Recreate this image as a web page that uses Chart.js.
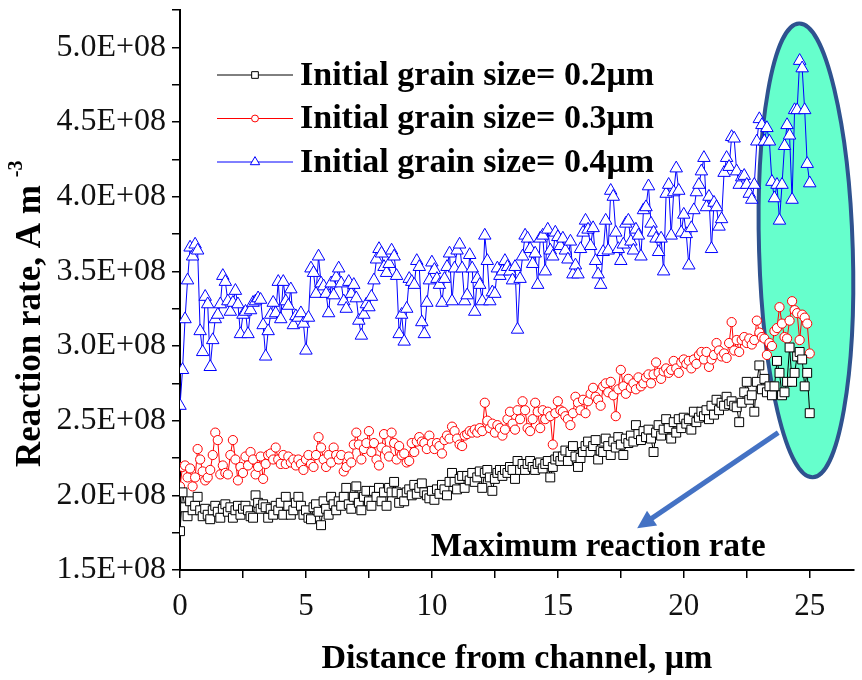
<!DOCTYPE html>
<html>
<head>
<meta charset="utf-8">
<script src="https://cdn.jsdelivr.net/npm/chart.js@4.4.1/dist/chart.umd.min.js"></script>
<style>
  html, body { margin: 0; padding: 0; background: #fff; }
  #myChart { display: block; }
</style>
</head>
<body>
<canvas id="myChart" width="862" height="680"></canvas>
<script>
// distance from channel, um
const distance = [
  0, 0.1, 0.2, 0.3, 0.4, 0.5, 0.6, 0.7, 0.8, 0.9,
  1, 1.1, 1.2, 1.3, 1.4, 1.5, 1.6, 1.7, 1.8, 1.9,
  2, 2.1, 2.2, 2.3, 2.4, 2.5, 2.6, 2.7, 2.8, 2.9,
  3, 3.1, 3.2, 3.3, 3.4, 3.5, 3.6, 3.7, 3.8, 3.9,
  4, 4.1, 4.2, 4.3, 4.4, 4.5, 4.6, 4.7, 4.8, 4.9,
  5, 5.1, 5.2, 5.3, 5.4, 5.5, 5.6, 5.7, 5.8, 5.9,
  6, 6.1, 6.2, 6.3, 6.4, 6.5, 6.6, 6.7, 6.8, 6.9,
  7, 7.1, 7.2, 7.3, 7.4, 7.5, 7.6, 7.7, 7.8, 7.9,
  8, 8.1, 8.2, 8.3, 8.4, 8.5, 8.6, 8.7, 8.8, 8.9,
  9, 9.1, 9.2, 9.3, 9.4, 9.5, 9.6, 9.7, 9.8, 9.9,
  10, 10.1, 10.2, 10.3, 10.4, 10.5, 10.6, 10.7, 10.8, 10.9,
  11, 11.1, 11.2, 11.3, 11.4, 11.5, 11.6, 11.7, 11.8, 11.9,
  12, 12.1, 12.2, 12.3, 12.4, 12.5, 12.6, 12.7, 12.8, 12.9,
  13, 13.1, 13.2, 13.3, 13.4, 13.5, 13.6, 13.7, 13.8, 13.9,
  14, 14.1, 14.2, 14.3, 14.4, 14.5, 14.6, 14.7, 14.8, 14.9,
  15, 15.1, 15.2, 15.3, 15.4, 15.5, 15.6, 15.7, 15.8, 15.9,
  16, 16.1, 16.2, 16.3, 16.4, 16.5, 16.6, 16.7, 16.8, 16.9,
  17, 17.1, 17.2, 17.3, 17.4, 17.5, 17.6, 17.7, 17.8, 17.9,
  18, 18.1, 18.2, 18.3, 18.4, 18.5, 18.6, 18.7, 18.8, 18.9,
  19, 19.1, 19.2, 19.3, 19.4, 19.5, 19.6, 19.7, 19.8, 19.9,
  20, 20.1, 20.2, 20.3, 20.4, 20.5, 20.6, 20.7, 20.8, 20.9,
  21, 21.1, 21.2, 21.3, 21.4, 21.5, 21.6, 21.7, 21.8, 21.9,
  22, 22.1, 22.2, 22.3, 22.4, 22.5, 22.6, 22.7, 22.8, 22.9,
  23, 23.1, 23.2, 23.3, 23.4, 23.5, 23.6, 23.7, 23.8, 23.9,
  24, 24.1, 24.2, 24.3, 24.4, 24.5, 24.6, 24.7, 24.8, 24.9,
  25
];

// reaction rate, in units of 1E+08 A m^-3
const rate02 = [
  1.76, 2.02, 1.92, 1.86, 1.96, 1.90, 1.93, 1.99, 1.90, 1.86,
  1.91, 1.87, 1.84, 1.90, 1.93, 1.89, 1.85, 1.91, 1.94, 1.89,
  1.92, 1.85, 1.90, 1.93, 1.87, 1.91, 1.93, 1.90, 1.86, 1.85,
  2.00, 1.95, 1.91, 1.94, 1.92, 1.85, 1.91, 1.87, 1.93, 1.90,
  1.95, 1.87, 1.99, 1.93, 1.87, 1.90, 1.95, 1.99, 1.93, 1.87,
  1.90, 1.85, 1.84, 1.92, 1.94, 1.89, 1.80, 1.96, 1.91, 1.87,
  1.99, 1.94, 1.90, 1.96, 1.93, 1.99, 2.05, 1.94, 1.91, 1.99,
  2.06, 1.95, 1.90, 1.99, 2.03, 1.96, 1.93, 2.03, 1.99, 2.05,
  1.96, 2.02, 1.93, 2.05,
  2.02, 2.09, 2.02, 1.95, 2.01, 1.96, 2.02, 2.04, 2.00, 2.07,
  2.01, 2.05, 2.08, 2.02, 2.00, 1.98, 2.03, 1.97, 2.04, 2.01,
  2.07, 2.04, 2.00, 2.09, 2.15, 2.09, 2.04, 2.11, 2.13, 2.05,
  2.13, 2.10, 2.15, 2.09, 2.12, 2.16, 2.05, 2.15, 2.17, 2.12,
  2.03, 2.11, 2.15, 2.17, 2.13, 2.17, 2.15, 2.19, 2.17, 2.11,
  2.23, 2.17, 2.21, 2.17, 2.21, 2.23, 2.19, 2.17, 2.21, 2.22,
  2.18, 2.21, 2.23, 2.12, 2.19, 2.24, 2.26, 2.23, 2.26, 2.30,
  2.23, 2.29, 2.33, 2.26, 2.19, 2.25, 2.29, 2.33, 2.36, 2.29,
  2.33, 2.37, 2.24, 2.30,
  2.29, 2.38, 2.33, 2.27, 2.36, 2.32, 2.39, 2.34, 2.27, 2.38,
  2.35, 2.40, 2.36, 2.47, 2.41, 2.37, 2.43, 2.39, 2.44, 2.38,
  2.29, 2.42, 2.47, 2.40, 2.44, 2.51, 2.45, 2.38, 2.49, 2.42,
  2.51, 2.45, 2.52, 2.48, 2.51, 2.44, 2.56, 2.49, 2.52, 2.56,
  2.53, 2.57, 2.51, 2.60, 2.54, 2.64, 2.57, 2.62, 2.60, 2.66,
  2.61, 2.63, 2.60, 2.59, 2.49, 2.62, 2.69, 2.76, 2.64, 2.67,
  2.56, 2.76, 2.87, 2.71, 2.78, 2.69, 2.73, 2.67, 2.73, 2.90,
  2.82, 2.67, 2.69, 2.76, 2.99, 2.76, 2.82, 2.93, 2.96, 2.91,
  2.73, 2.82, 2.55
];

const rate03 = [
  2.06, 2.19, 2.20, 2.12, 2.18, 2.06, 2.12, 2.31, 2.24, 2.16,
  2.10, 2.12, 2.17, 2.27, 2.42, 2.37, 2.14, 2.20, 2.15, 2.14,
  2.27, 2.37, 2.24, 2.10, 2.19, 2.15, 2.26, 2.20, 2.29, 2.24,
  2.14, 2.19, 2.26, 2.11, 2.21, 2.27, 2.28, 2.24, 2.32, 2.24,
  2.21, 2.27, 2.21, 2.26, 2.22, 2.24, 2.20, 2.24, 2.21, 2.17,
  2.24, 2.27, 2.21, 2.19, 2.27, 2.39, 2.32, 2.24, 2.19, 2.27,
  2.22, 2.32, 2.27, 2.24, 2.27, 2.16, 2.19, 2.26, 2.22, 2.34,
  2.42, 2.34, 2.24, 2.31, 2.35, 2.43, 2.29, 2.35, 2.24, 2.20,
  2.32, 2.41, 2.30, 2.26,
  2.42, 2.35, 2.24, 2.33, 2.27, 2.28, 2.22, 2.23, 2.35, 2.29,
  2.36, 2.39, 2.36, 2.35, 2.31, 2.40, 2.35, 2.31, 2.35, 2.33,
  2.28, 2.37, 2.40, 2.38, 2.46, 2.43, 2.38, 2.34, 2.33, 2.40,
  2.41, 2.43, 2.42, 2.44, 2.42, 2.45, 2.43, 2.62, 2.50, 2.45,
  2.48, 2.42, 2.47, 2.45, 2.40, 2.44, 2.51, 2.56, 2.48, 2.44,
  2.57, 2.51, 2.63, 2.57, 2.45, 2.43, 2.51, 2.62, 2.56, 2.45,
  2.57, 2.51, 2.56, 2.53, 2.34, 2.55, 2.63, 2.57, 2.56, 2.53,
  2.51, 2.47, 2.55, 2.66, 2.62, 2.57, 2.64, 2.55, 2.63, 2.68,
  2.72, 2.66, 2.64, 2.60,
  2.73, 2.75, 2.69, 2.76, 2.67, 2.53, 2.71, 2.84, 2.73, 2.68,
  2.78, 2.72, 2.75, 2.71, 2.79, 2.73, 2.75, 2.79, 2.81, 2.75,
  2.81, 2.89, 2.82, 2.78, 2.83, 2.85, 2.82, 2.84, 2.90, 2.85,
  2.82, 2.89, 2.91, 2.88, 2.90, 2.85, 2.91, 2.88, 2.94, 2.96,
  2.91, 2.96, 2.86, 2.91, 2.94, 3.02, 2.97, 2.93, 2.95, 2.92,
  3.02, 3.16, 2.97, 3.04, 2.96, 3.04, 3.06, 3.02, 3.05, 3.01,
  3.04, 3.17, 3.09, 3.06, 3.05, 2.94, 3.02, 3.00, 3.10, 3.12,
  3.26, 3.15, 3.06, 3.05, 3.17, 3.30, 3.24, 3.22, 3.04, 3.21,
  3.19, 3.15, 2.95
];

const rate04 = [
  2.60, 2.84, 3.18, 3.44, 3.66, 3.60, 3.68, 3.64, 3.10, 2.96,
  3.33, 3.28, 2.86, 3.04, 3.18, 3.21, 3.28, 3.47, 3.43, 3.30,
  3.23, 3.29, 3.37, 3.28, 3.08, 3.21, 3.23, 3.08, 3.24, 3.29,
  3.30, 3.32, 3.31, 3.14, 2.93, 3.10, 3.21, 3.29, 3.22, 3.43,
  3.18, 3.43, 3.30, 3.27, 3.38, 3.14, 3.20, 3.19, 3.22, 3.15,
  2.97, 3.19, 3.52, 3.49, 3.35, 3.60, 3.42, 3.40, 3.35, 3.22,
  3.42, 3.34, 3.46, 3.52, 3.42, 3.30, 3.25, 3.43, 3.35, 3.41,
  3.32, 3.17, 3.07, 3.21, 3.28, 3.26, 3.33, 3.44, 3.58, 3.65,
  3.62, 3.53, 3.49, 3.55,
  3.64, 3.60, 3.47, 3.08, 3.21, 3.03, 3.25, 3.45, 3.43, 3.41,
  3.57, 3.53, 3.16, 3.08, 3.29, 3.44, 3.56, 3.51, 3.45, 3.41,
  3.29, 3.45, 3.53, 3.62, 3.30, 3.52, 3.64, 3.68, 3.52, 3.30,
  3.34, 3.61, 3.52, 3.23, 3.45, 3.41, 3.30, 3.74, 3.57, 3.30,
  3.36, 3.35, 3.52, 3.47, 3.50, 3.57, 3.53, 3.50, 3.44, 3.53,
  3.11, 3.45, 3.60, 3.74, 3.72, 3.65, 3.55, 3.62, 3.41, 3.72,
  3.74, 3.50, 3.78, 3.64, 3.60, 3.76, 3.73, 3.67, 3.72, 3.64,
  3.58, 3.70, 3.48, 3.54, 3.48, 3.65, 3.76, 3.84, 3.78, 3.67,
  3.79, 3.57, 3.48, 3.41,
  3.63, 3.84, 3.64, 4.04, 4.00, 3.76, 3.65, 3.57, 3.68, 3.82,
  3.84, 3.70, 3.64, 3.78, 3.74, 3.60, 3.91, 3.93, 4.07, 3.82,
  3.76, 3.72, 3.63, 3.72, 3.50, 4.02, 4.08, 3.74, 4.03, 4.19,
  4.04, 3.76, 3.88, 3.75, 3.54, 3.79, 3.91, 4.03, 4.08, 4.17,
  4.26, 3.93, 4.00, 3.65, 3.96, 3.93, 3.80, 3.85, 4.16, 4.26,
  4.20, 4.40, 4.39, 4.17, 4.08, 4.13, 4.14, 4.08, 4.02, 3.98,
  4.08, 4.37, 4.52, 4.48, 4.37, 4.46, 4.37, 4.10, 3.99, 4.08,
  3.84, 4.08, 4.34, 4.48, 4.41, 3.98, 4.58, 4.58, 4.91, 4.86,
  4.58, 4.22, 4.09
];

const unit = 1e8;
const seriesNames = [
  "Initial grain size= 0.2\u03bcm",
  "Initial grain size= 0.3\u03bcm",
  "Initial grain size= 0.4\u03bcm"
];
const xTickLabels = ["0", "5", "10", "15", "20", "25"];
const yTickLabels = ["1.5E+08", "2.0E+08", "2.5E+08", "3.0E+08", "3.5E+08", "4.0E+08", "4.5E+08", "5.0E+08"];

const xTitle = "Distance from channel, \u03bcm";
const yTitle = "Reaction rate, A m";
const yTitleSup = "-3";
const noteText = "Maximum reaction rate";

// annotation placement in data units
const ellipseCenter = [24.85, 3.64];
const ellipseRadius = [1.86, 1.52];
const arrowFrom = [23.75, 2.42];
const arrowTo = [18.15, 1.78];
const notePos = [16.6, 1.65];

const serif = '"Liberation Serif", "Times New Roman", serif';

function toPoints(values) {
  return distance.map((d, i) => ({ x: d, y: values[i] * unit }));
}

const decorations = {
  id: "decorations",
  beforeDatasetsDraw(chart) {
    const { ctx } = chart;
    const x = chart.scales.x;
    const y = chart.scales.y;
    const cx = x.getPixelForValue(ellipseCenter[0]);
    const cy = y.getPixelForValue(ellipseCenter[1] * unit);
    const rx = x.getPixelForValue(ellipseCenter[0] + ellipseRadius[0]) - cx;
    const ry = cy - y.getPixelForValue((ellipseCenter[1] + ellipseRadius[1]) * unit);
    ctx.save();
    ctx.beginPath();
    ctx.ellipse(cx, cy, rx, ry, -0.03, 0, Math.PI * 2);
    ctx.fillStyle = "#66FFCC";
    ctx.fill();
    ctx.lineWidth = 4;
    ctx.strokeStyle = "#2F528F";
    ctx.stroke();
    ctx.restore();
  },
  afterDraw(chart) {
    const { ctx } = chart;
    const x = chart.scales.x;
    const y = chart.scales.y;
    const area = chart.chartArea;

    // arrow
    const x0 = x.getPixelForValue(arrowFrom[0]);
    const y0 = y.getPixelForValue(arrowFrom[1] * unit);
    const x1 = x.getPixelForValue(arrowTo[0]);
    const y1 = y.getPixelForValue(arrowTo[1] * unit);
    const len = Math.hypot(x1 - x0, y1 - y0);
    const ux = (x1 - x0) / len, uy = (y1 - y0) / len;
    ctx.save();
    ctx.strokeStyle = "#4472C4";
    ctx.fillStyle = "#4472C4";
    ctx.lineWidth = 5;
    ctx.beginPath();
    ctx.moveTo(x0, y0);
    ctx.lineTo(x1 - ux * 14, y1 - uy * 14);
    ctx.stroke();
    ctx.beginPath();
    ctx.moveTo(x1, y1);
    ctx.lineTo(x1 - ux * 18 - uy * 9, y1 - uy * 18 + ux * 9);
    ctx.lineTo(x1 - ux * 18 + uy * 9, y1 - uy * 18 - ux * 9);
    ctx.closePath();
    ctx.fill();
    ctx.restore();

    // annotation text
    ctx.save();
    ctx.font = "bold 33px " + serif;
    ctx.fillStyle = "#000";
    ctx.textAlign = "center";
    ctx.textBaseline = "middle";
    ctx.fillText(noteText, x.getPixelForValue(notePos[0]), y.getPixelForValue(notePos[1] * unit));
    ctx.restore();

    // legend: line + marker + label
    ctx.save();
    chart.data.datasets.forEach((ds, i) => {
      const ly = area.top + 65 + i * 43.5;
      const lx = area.left + 37;
      ctx.strokeStyle = ds.borderColor;
      ctx.lineWidth = 1;
      ctx.beginPath();
      ctx.moveTo(lx, ly);
      ctx.lineTo(lx + 76, ly);
      ctx.stroke();
      ctx.fillStyle = "#fff";
      Chart.helpers.drawPoint(ctx, {
        pointStyle: ds.pointStyle,
        radius: ds.pointRadius * 0.75,
        rotation: 0,
        borderWidth: 1
      }, lx + 38, ly);
      ctx.fillStyle = "#000";
      ctx.font = "bold 34px " + serif;
      ctx.textAlign = "left";
      ctx.textBaseline = "middle";
      ctx.fillText(ds.label, lx + 83, ly + 1);
    });
    ctx.restore();

    // y axis title with superscript
    ctx.save();
    ctx.translate(31, 467);
    ctx.rotate(-Math.PI / 2);
    ctx.fillStyle = "#000";
    ctx.font = "bold 35px " + serif;
    ctx.textAlign = "left";
    ctx.textBaseline = "middle";
    ctx.fillText(yTitle, 0, 0);
    const w = ctx.measureText(yTitle).width;
    ctx.font = "bold 20px " + serif;
    ctx.fillText(yTitleSup, w + 8, -14);
    ctx.restore();
  }
};

const ctx = document.querySelector("#myChart").getContext("2d");
const chart = new Chart(ctx, {
  type: "line",
  data: {
    datasets: [
      {
        label: seriesNames[0],
        data: toPoints(rate02),
        borderColor: "#000000",
        backgroundColor: "#ffffff",
        pointStyle: "rect",
        pointRadius: 6.3,
        pointBorderWidth: 1,
        borderWidth: 1
      },
      {
        label: seriesNames[1],
        data: toPoints(rate03),
        borderColor: "#ff0000",
        backgroundColor: "#ffffff",
        pointStyle: "circle",
        pointRadius: 4.6,
        pointBorderWidth: 1,
        borderWidth: 1
      },
      {
        label: seriesNames[2],
        data: toPoints(rate04),
        borderColor: "#0000ff",
        backgroundColor: "#ffffff",
        pointStyle: "triangle",
        pointRadius: 7.2,
        pointBorderWidth: 1,
        borderWidth: 1
      }
    ]
  },
  options: {
    responsive: false,
    animation: false,
    devicePixelRatio: 1,
    layout: { padding: { top: 10, left: 0, right: 0, bottom: 0 } },
    elements: { line: { tension: 0 } },
    plugins: {
      legend: { display: false },
      tooltip: { enabled: false }
    },
    scales: {
      x: {
        type: "linear",
        min: 0,
        max: 26.75,
        afterFit: (scale) => {
          scale.height = 110;
          scale.paddingLeft = 0;
          scale.paddingRight = 0;
        },
        border: { color: "#000", width: 2 },
        grid: { display: true, drawOnChartArea: false, drawTicks: true, tickLength: 8, color: "#000", lineWidth: 1.5 },
        ticks: {
          stepSize: 2.5,
          includeBounds: false,
          autoSkip: false,
          maxRotation: 0,
          padding: 10,
          color: "#111",
          font: { family: serif, size: 31 },
          callback: (v) => (v % 5 === 0 ? xTickLabels[v / 5] : "")
        },
        title: {
          display: true,
          text: xTitle,
          color: "#000",
          font: { family: serif, size: 34, weight: "bold" },
          padding: { top: 3, bottom: 0 }
        }
      },
      y: {
        type: "linear",
        min: 1.5e8,
        max: 5.25e8,
        afterFit: (scale) => {
          scale.width = 180;
          scale.paddingTop = 0;
          scale.paddingBottom = 0;
        },
        border: { color: "#000", width: 2 },
        grid: { display: true, drawOnChartArea: false, drawTicks: true, tickLength: 8, color: "#000", lineWidth: 1.5 },
        ticks: {
          stepSize: 0.25e8,
          autoSkip: false,
          padding: 6,
          color: "#111",
          font: { family: serif, size: 32 },
          callback: (v) => {
            const k = (v - 1.5e8) / 0.5e8;
            return Math.abs(k - Math.round(k)) < 1e-6 ? yTickLabels[Math.round(k)] : "";
          }
        }
      }
    }
  },
  plugins: [decorations]
});
</script>
</body>
</html>
